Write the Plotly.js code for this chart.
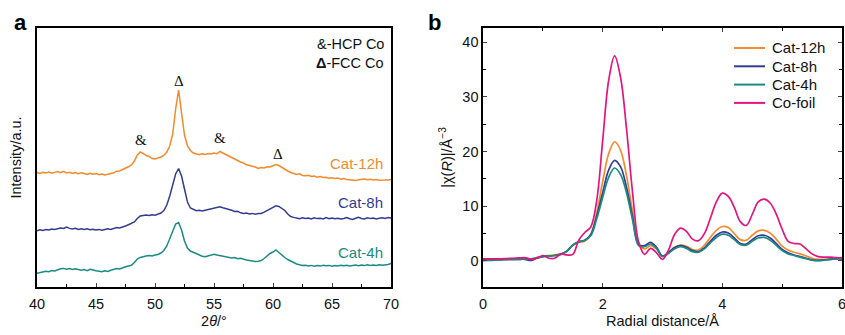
<!DOCTYPE html>
<html><head><meta charset="utf-8">
<script src="https://cdn.plot.ly/plotly-3.0.1.min.js"></script>
<style>body{margin:0;padding:0;background:#fff}#chart{width:845px;height:335px}</style>
</head><body><div id="chart"></div>
<script>
// ---- Panel a: XRD (2theta, offset intensities in a.u.) ----
const twoTheta = [40,40.25,40.5,40.75,41,41.25,41.5,41.75,42,42.25,42.5,42.75,43,43.25,43.5,43.75,44,44.25,44.5,44.75,45,45.25,45.5,45.75,46,46.25,46.5,46.75,47,47.25,47.5,47.75,48,48.25,48.5,48.75,49,49.25,49.5,49.75,50,50.25,50.5,50.75,51,51.25,51.5,51.75,52,52.25,52.5,52.75,53,53.25,53.5,53.75,54,54.25,54.5,54.75,55,55.25,55.5,55.75,56,56.25,56.5,56.75,57,57.25,57.5,57.75,58,58.25,58.5,58.75,59,59.25,59.5,59.75,60,60.25,60.5,60.75,61,61.25,61.5,61.75,62,62.25,62.5,62.75,63,63.25,63.5,63.75,64,64.25,64.5,64.75,65,65.25,65.5,65.75,66,66.25,66.5,66.75,67,67.25,67.5,67.75,68,68.25,68.5,68.75,69,69.25,69.5,69.75,70];
const xrdCat12h = [114.5,113.5,114.8,114,115,113.8,114.6,115.5,114.3,115.6,114,114.8,113.6,114.5,113.2,114.2,113.5,112.6,113.8,112.8,113.4,112.2,113,112,112.8,113.5,114.2,115.8,116,117.5,118.5,120.2,122,126,132,135,133.5,131.5,130.5,128.5,128,128.8,130,131.5,135,141,153,178,197,174,152,141,136.5,134,133,132.2,133.2,132.5,133.5,133,134,133.2,135.5,134,132.2,131,129,127.5,126.3,125,124,122.2,121.5,120.8,120,118.6,119.5,119,120.2,120,121,122.5,121.5,119.5,117.5,116,114.5,113.8,112.6,113.2,111.5,111.2,111.8,110.5,111,109.8,110.4,109.5,109.8,108.8,109.2,108.5,108.9,107.8,108.4,107.5,107,106.6,106.4,107.2,107.6,108,107.2,107.8,107,107.5,106.8,107.2,106.9,107.1,107.5];
const xrdCat8h = [56.3,57.2,56.5,57.5,57,58,57.4,58.4,58.9,58.5,60,58.6,58,58.8,57.6,58.3,57.5,58.2,57.2,57.8,57,57.6,56.8,57.5,58.2,57.6,58.6,59.5,59,60.4,61,62.2,63.5,65,68.5,71,71.5,72,71.6,72.2,71.8,72.6,74,76.5,82,91,102,113,118.5,111,98,85,79,77.5,76.2,76.8,76,76.8,77.5,78.2,78.8,79.5,80.2,79.2,78.5,77.2,76.8,75.5,75.8,74.2,73.5,74,73,73.6,72.8,73.4,73.5,74.8,76.5,78.5,80,81.2,80.5,78.8,76.5,73,70.5,69.6,69,68.2,69.2,68.5,68.9,68,69.2,68.4,68.8,68,69.5,68.3,69,68.2,68.8,68,68.6,69.4,68.2,67.5,68.8,69.6,68.5,68,69.2,68.4,68.9,68.1,68.7,69.3,68.6,69.4,69];
const xrdCat4h = [13.7,14.2,14.8,15.8,15.3,16.5,16,17.2,18.2,18.6,17.8,18.4,17.5,18.2,17.3,16.8,17.5,16.4,17.8,16.6,16.2,15.8,15.3,16.2,15.6,16.8,17.5,18.4,18,19.5,20.3,21,21.8,24.5,28,29.6,30.5,31,31.5,31,32,32.5,34,36.5,41,48,56,63,64.5,57,46,39,36,34.5,33.6,32,30.8,30.2,31.2,32.5,32.8,32,31.5,30.6,30.2,29.8,29,29.5,28.2,28.8,27.5,27,26.5,26,25.5,25.8,26.5,28.5,31.5,33.5,35,37,34.5,31.5,29.5,27.5,25.8,24.5,23,22.2,21.5,21.8,21,21.6,20.8,21.5,20.9,21.8,21.2,21.6,20.8,21.4,21,21.8,21.2,21.7,21,21.5,22,21.3,21.9,21.4,22.2,21.6,22,21.5,22.3,21.8,22.1,22.5,23.5];
const xrdNames = ['Cat-12h','Cat-8h','Cat-4h'];
const xrdTicks = [40,45,50,55,60,65,70];

// peak marks: symbol, 2theta, height
const peakSymbols = ['&','Δ','&','Δ'];
const peakPos = [48.8, 52.0, 55.5, 60.4];
const peakHeight = [147, 206, 149, 133];
const curveLabelPos = [124, 85, 35];

// ---- Panel b: EXAFS ----
const radial = [0,0.1,0.2,0.3,0.4,0.5,0.6,0.7,0.8,0.9,1,1.1,1.2,1.3,1.4,1.5,1.6,1.7,1.8,1.9,2,2.1,2.2,2.3,2.4,2.5,2.6,2.7,2.8,2.9,3,3.1,3.2,3.3,3.4,3.5,3.6,3.7,3.8,3.9,4,4.1,4.2,4.3,4.4,4.5,4.6,4.7,4.8,4.9,5,5.1,5.2,5.3,5.4,5.5,5.6,5.7,5.8,5.9,6];
const chiCat12h = [0.3,0.3,0.3,0.3,0.3,0.3,0.35,0.4,0.3,0.6,0.9,1.0,1.1,1.3,1.7,2.8,3.4,3.6,4.8,8.8,14.5,19.6,21.8,20.2,15.5,9,3.2,2.2,2.8,2.2,0.9,1.6,2.5,2.9,2.7,2.1,2.0,2.9,4.3,5.6,6.3,6.1,5.0,3.9,3.8,4.7,5.5,5.6,5.1,4.0,2.7,2.0,1.6,1.3,0.9,0.5,0.3,0.3,0.4,0.5,0.5];
const chiCat8h = [0.2,0.2,0.25,0.25,0.3,0.3,0.3,0.3,0.1,0.5,0.8,0.9,1.0,1.2,1.8,2.9,3.5,3.8,4.8,8.2,12.5,16.6,18.4,17.2,13.4,8,3.0,2.8,3.4,2.5,0.9,1.5,2.4,2.8,2.5,1.9,1.7,2.4,3.6,4.7,5.3,5.1,4.2,3.2,3.1,3.9,4.6,4.7,4.2,3.2,2.1,1.5,1.1,0.8,0.5,0.2,0.1,0.2,0.3,0.4,0.4];
const chiCat4h = [0.05,0.1,0.15,0.2,0.25,0.3,0.3,0.35,0.4,0.6,0.8,0.9,1.0,1.2,1.8,2.9,3.5,3.8,4.6,7.7,11.6,15.3,17.0,15.8,12.4,7.5,2.8,2.6,3.1,2.3,0.8,1.4,2.2,2.6,2.3,1.7,1.6,2.2,3.3,4.3,4.9,4.7,3.9,3.0,2.9,3.6,4.2,4.3,3.8,2.9,1.9,1.3,1.0,0.7,0.4,0.15,0.05,0.15,0.3,0.4,0.4];
const chiCoFoil = [0.4,0.4,0.4,0.4,0.45,0.5,0.55,0.6,0.35,0.5,1.0,0.5,0.5,1.3,1.1,1.2,3.8,5.2,6.2,11,22,33,37.5,33.5,24,12.5,3.5,1.2,2.3,1.5,0.3,2.0,4.8,6.0,5.4,4.0,3.7,5.0,7.8,10.8,12.4,11.8,9.8,7.2,6.5,8.5,10.8,11.3,10.6,8.6,5.8,3.6,3.2,3.1,2.2,1.3,0.8,0.7,0.7,0.6,0.6];
const exafsNames = ['Cat-12h','Cat-8h','Cat-4h','Co-foil'];
const exafsXTicks = [0,2,4,6];
const exafsYTicks = [0,10,20,30,40];

const colors = {'Cat-12h':'#F28A2E','Cat-8h':'#343C91','Cat-4h':'#1B8A84','Co-foil':'#E3157F'};

const traces = [];
[xrdCat12h, xrdCat8h, xrdCat4h].forEach((ys, i) => {
  traces.push({x: twoTheta, y: ys, type:'scatter', mode:'lines', name: xrdNames[i],
    line:{color: colors[xrdNames[i]], width:1.5},
    xaxis:'x', yaxis:'y', showlegend:false, hoverinfo:'skip'});
});
[chiCat12h, chiCat8h, chiCat4h, chiCoFoil].forEach((ys, i) => {
  traces.push({x: radial, y: ys, type:'scatter', mode:'lines', name: exafsNames[i],
    line:{color: colors[exafsNames[i]], width:1.7, shape:'spline', smoothing:1.0},
    xaxis:'x2', yaxis:'y2', showlegend:false, hoverinfo:'skip'});
});

const W = 845, H = 335, ml = 37, mr = 3, mt = 28, mb = 48;
const pw = W - ml - mr, ph = H - mt - mb;
const px2x = v => (v - ml) / pw;
const px2y = v => 1 - (v - mt) / ph;

const font = 'Liberation Sans, Arial, sans-serif';
const serif = 'Liberation Serif, Times New Roman, serif';
const annotations = [];
const shapes = [];
peakSymbols.forEach((s, i) => annotations.push({x: peakPos[i], y: peakHeight[i], xref:'x', yref:'y', text: s,
  showarrow:false, font:{family: serif, size:15, color:'#111'}}));
xrdNames.forEach((n, i) => annotations.push({x: 69.5, y: curveLabelPos[i], xref:'x', yref:'y', text: n,
  xanchor:'right', showarrow:false, font:{family: font, size:15, color: colors[n]}}));
annotations.push({x: 69.6, y: 243, xref:'x', yref:'y', text:'&-HCP Co', xanchor:'right', showarrow:false,
  font:{family: font, size:14.5, color:'#111'}});
annotations.push({x: 69.6, y: 224, xref:'x', yref:'y', text:'<b>Δ</b>-FCC Co', xanchor:'right', showarrow:false,
  font:{family: font, size:14.5, color:'#111'}});
annotations.push({x: px2x(20), y: px2y(22), xref:'paper', yref:'paper', text:'<b>a</b>', showarrow:false, xanchor:'center', yanchor:'middle', font:{family: font, size:22, color:'#000'}});
annotations.push({x: px2x(434), y: px2y(22), xref:'paper', yref:'paper', text:'<b>b</b>', showarrow:false, xanchor:'center', yanchor:'middle', font:{family: font, size:22, color:'#000'}});

// legend for panel b (custom, to match the compact row spacing)
exafsNames.forEach((n, i) => {
  const rowY = 48 + i * 18.3;
  shapes.push({type:'line', xref:'paper', yref:'paper', x0: px2x(734), x1: px2x(765), y0: px2y(rowY), y1: px2y(rowY),
    line:{color: colors[n], width:2}});
  annotations.push({x: px2x(770), y: px2y(rowY), xref:'paper', yref:'paper', text: n, xanchor:'left', yanchor:'middle',
    showarrow:false, font:{family: font, size:15, color:'#111'}});
});

const layout = {
  width: W, height: H,
  margin: {l: ml, r: mr, t: mt, b: mb, pad: 0},
  paper_bgcolor:'#fff', plot_bgcolor:'#fff',
  font: {family: font, size: 14, color:'#111'},
  xaxis: {domain:[0, (391-37)/pw], range:[40,70], tickvals: xrdTicks, ticks:'inside', ticklen:4, tickwidth:1,
    minor:{dtick:2.5, ticks:'inside', ticklen:3, tickcolor:'#000'}, ticklabelstandoff:3,
    showline:true, linecolor:'#000', linewidth:1.6, mirror:true, showgrid:false, zeroline:false,
    tickfont:{size:14.5}, title:{text:'2<i>θ</i>/°', font:{size:14.5}, standoff:5}},
  yaxis: {domain:[0,1], range:[0,259], showticklabels:false, ticks:'', showline:true, linecolor:'#000', linewidth:1.6,
    mirror:true, showgrid:false, zeroline:false, title:{text:'Intensity/a.u.', font:{size:14.5}, standoff:10}},
  xaxis2: {domain:[(483-37)/pw, 1], range:[0,6], tickvals: exafsXTicks, ticks:'inside', ticklen:4, tickwidth:1,
    minor:{dtick:1, ticks:'inside', ticklen:3, tickcolor:'#000'}, anchor:'y2', ticklabeloverflow:'allow', ticklabelstandoff:3,
    showline:true, linecolor:'#000', linewidth:1.6, mirror:'ticks', showgrid:false, zeroline:false,
    tickfont:{size:14.5}, title:{text:'Radial distance/Å', font:{size:14.5}, standoff:5}},
  yaxis2: {domain:[0,1], range:[-4.76,42.6], tickvals: exafsYTicks, ticks:'inside', ticklen:4, tickwidth:1, anchor:'x2',
    minor:{dtick:5, ticks:'inside', ticklen:3, tickcolor:'#000'},
    showline:true, linecolor:'#000', linewidth:1.6, mirror:'ticks', showgrid:false, zeroline:false,
    tickfont:{size:14.5}, title:{text:'|χ(<i>R</i>)|/Å<sup>−3</sup>', font:{size:14.5}, standoff:6}},
  annotations: annotations,
  shapes: shapes,
  showlegend: false
};
Plotly.newPlot('chart', traces, layout, {staticPlot:true, displayModeBar:false});
</script></body></html>
